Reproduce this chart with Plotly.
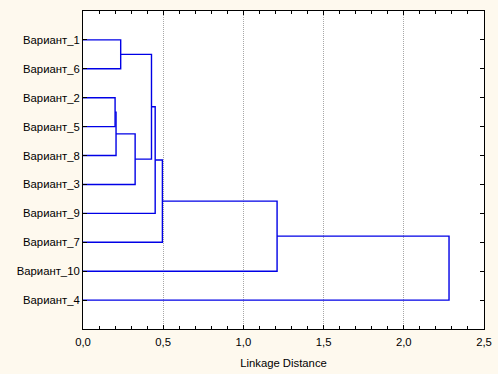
import plotly.graph_objects as go

leaves = ["Вариант_1", "Вариант_6", "Вариант_2", "Вариант_5", "Вариант_8",
          "Вариант_3", "Вариант_9", "Вариант_7", "Вариант_10", "Вариант_4"]
# Linkage (clusters C1..C9 created in this order)
merge_left = ["Вариант_2", "C1", "Вариант_1", "C2", "C3", "C5", "C6", "C7", "C8"]
merge_right = ["Вариант_5", "Вариант_8", "Вариант_6", "Вариант_3", "C4",
               "Вариант_9", "Вариант_7", "Вариант_10", "Вариант_4"]
merge_height = [0.200, 0.206, 0.235, 0.325, 0.427, 0.450, 0.495, 1.210, 2.282]

x_ticks = [0.0, 0.5, 1.0, 1.5, 2.0, 2.5]
x_labels = ["0,0", "0,5", "1,0", "1,5", "2,0", "2,5"]

pos = {name: (0.0, i + 1) for i, name in enumerate(leaves)}
xs, ys = [], []
for k, (a, b, h) in enumerate(zip(merge_left, merge_right, merge_height)):
    xa, ya = pos[a]
    xb, yb = pos[b]
    xs += [xa, h, h, xb, None]
    ys += [ya, ya, yb, yb, None]
    pos["C%d" % (k + 1)] = (h, (ya + yb) / 2)

fig = go.Figure()
fig.add_trace(go.Scatter(x=xs, y=ys, mode="lines",
                         line=dict(color="#0000E6", width=1.4),
                         hoverinfo="skip", showlegend=False))

fig.update_layout(
    width=498, height=374,
    margin=dict(l=83, r=14, t=11, b=45),
    paper_bgcolor="#FEF9EE",
    plot_bgcolor="#FFFFFF",
    font=dict(family="Liberation Sans, Arial, sans-serif", size=11.3, color="#000000"),
    showlegend=False,
)
fig.update_xaxes(
    range=[0, 2.5], tickvals=x_ticks, ticktext=x_labels, automargin=False,
    showline=True, linecolor="#000000", linewidth=1, mirror="allticks",
    ticks="inside", ticklen=4, tickcolor="#000000", ticklabelstandoff=2,
    minor=dict(dtick=0.1, ticks="inside", ticklen=3, tickcolor="#000000", showgrid=False),
    showgrid=True, gridcolor="#A8A8A8", griddash="1px,1px", gridwidth=1,
    zeroline=False, tickfont=dict(size=11.3),
    title=dict(text="Linkage Distance", standoff=12, font=dict(size=11.3)),
)
fig.update_yaxes(
    range=[11, 0], tickvals=list(range(1, len(leaves) + 1)), ticktext=leaves,
    automargin=False,
    showline=True, linecolor="#000000", linewidth=1, mirror="allticks",
    ticks="inside", ticklen=4, tickcolor="#000000", ticklabelstandoff=0,
    showgrid=False, zeroline=False, tickfont=dict(size=11.3),
)
fig.write_html(
    "out.html",
    config={"displayModeBar": False},
    post_script="document.body.style.margin='0';document.body.style.background='#FEF9EE';",
)
